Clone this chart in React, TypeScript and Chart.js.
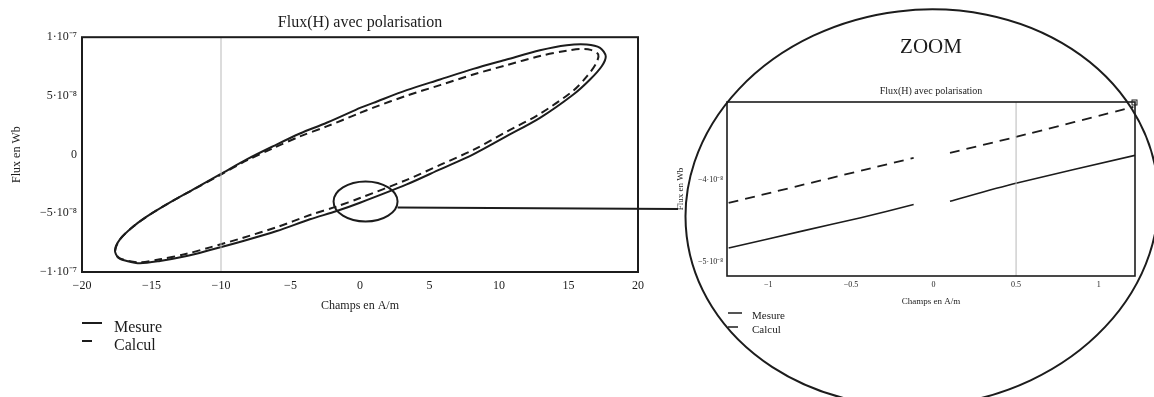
import React, { useEffect, useRef } from "react";
import { Chart, registerables } from "chart.js";

Chart.register(...registerables);

const FONT = "'Liberation Serif', 'Times New Roman', serif";
const INK = "#1c1c1c";

// ---------- main plot ----------
const MAIN_TITLE = "Flux(H) avec polarisation";
const MAIN_X_TITLE = "Champs en A/m";
const MAIN_Y_TITLE = "Flux en Wb";
const MAIN_X_MIN = -20;
const MAIN_X_MAX = 20;
const MAIN_Y_MIN = -1e-7;
const MAIN_Y_MAX = 1e-7;
const MAIN_X_TICKS = [-20, -15, -10, -5, 0, 5, 10, 15, 20];
const MAIN_Y_TICKS = [-1e-7, -5e-8, 0, 5e-8, 1e-7];
const MAIN_Y_TICK_LABELS = ["−1·10⁻⁷", "−5·10⁻⁸", "0", "5·10⁻⁸", "1·10⁻⁷"];
const MAIN_MARKER_H = -10;

const LEGEND_LABELS = ["Mesure", "Calcul"];

// Mesure (solid) loop, H in A/m, flux in Wb
const MESURE_H = [
  0, 0.96, 3.36, 5.76, 8.15, 10.55, 12.95, 14.87, 16.31, 17.27, 17.68, 17.39, 16.55, 15.35,
  12.95, 10.55, 8.15, 5.76, 3.36, 0, -1.68, -3.6, -5.99, -8.4, -10.79, -12.47, -14.39, -15.83,
  -16.78, -17.39, -17.63, -17.27, -16.42, -15.35, -13.91, -11.99, -10.07, -8.15, -6.24, -4.32,
  -2.4, 0,
];
const MESURE_FLUX = [
  3.98e-8, 4.41e-8, 5.49e-8, 6.4e-8, 7.3e-8, 8.1e-8, 8.89e-8, 9.32e-8, 9.38e-8, 9.09e-8, 8.38e-8,
  7.53e-8, 6.4e-8, 5.12e-8, 3.13e-8, 1.57e-8, 0.02e-8, -1.26e-8, -2.54e-8, -4.1e-8, -4.81e-8,
  -5.51e-8, -6.51e-8, -7.36e-8, -8.13e-8, -8.64e-8, -9.06e-8, -9.26e-8, -9.06e-8, -8.78e-8,
  -8.13e-8, -7.22e-8, -6.23e-8, -5.29e-8, -4.24e-8, -2.96e-8, -1.69e-8, -0.41e-8, 0.72e-8, 1.8e-8,
  2.71e-8, 3.98e-8,
];

// Calcul (dashed) loop
const CALCUL_H = [
  0, 0.96, 3.36, 5.76, 8.15, 10.55, 12.95, 14.87, 15.83, 16.6, 17.14, 17.0, 16.35, 15.35, 12.95,
  10.55, 8.15, 5.76, 3.36, 0, -1.68, -3.6, -5.99, -8.4, -10.79, -12.47, -14.39, -15.83, -16.78,
  -17.39, -17.6, -17.27, -16.42, -15.35, -13.91, -11.99, -10.07, -8.15, -6.24, -4.32, -2.4, 0,
];
const CALCUL_FLUX = [
  3.55e-8, 4.0e-8, 5.02e-8, 5.92e-8, 6.82e-8, 7.62e-8, 8.4e-8, 8.85e-8, 9.0e-8, 8.92e-8, 8.53e-8,
  7.8e-8, 6.7e-8, 5.45e-8, 3.48e-8, 1.95e-8, 0.4e-8, -0.88e-8, -2.15e-8, -3.7e-8, -4.42e-8,
  -5.15e-8, -6.18e-8, -7.08e-8, -7.9e-8, -8.45e-8, -8.92e-8, -9.18e-8, -9.02e-8, -8.75e-8,
  -8.13e-8, -7.22e-8, -6.23e-8, -5.29e-8, -4.24e-8, -2.98e-8, -1.74e-8, -0.5e-8, 0.55e-8, 1.55e-8,
  2.4e-8, 3.55e-8,
];

// spot of the main plot that is magnified
const ZOOM_SPOT_H = 0.4;
const ZOOM_SPOT_FLUX = -4.0e-8;

// ---------- zoom plot ----------
const ZOOM_LABEL = "ZOOM";
const ZOOM_TITLE = "Flux(H) avec polarisation";
const ZOOM_X_MIN = -1.25;
const ZOOM_X_MAX = 1.22;
const ZOOM_Y_MIN = -5.17e-8;
const ZOOM_Y_MAX = -3.05e-8;
const ZOOM_X_TICKS = [-1, -0.5, 0, 0.5, 1];
const ZOOM_Y_TICKS = [-5e-8, -4e-8];
const ZOOM_Y_TICK_LABELS = ["−5·10⁻⁸", "−4·10⁻⁸"];
const ZOOM_MARKER_H = 0.5;

const ZOOM_MESURE_H = [-1.24, -0.79, -0.44, -0.12, 0, 0.1, 0.48, 1.22];
const ZOOM_MESURE_FLUX = [-4.83e-8, -4.62e-8, -4.46e-8, -4.3e-8, null, -4.26e-8, -4.05e-8, -3.7e-8];
const ZOOM_CALCUL_H = [-1.24, -0.12, 0, 0.1, 0.49, 1.21];
const ZOOM_CALCUL_FLUX = [-4.28e-8, -3.73e-8, null, -3.67e-8, -3.48e-8, -3.11e-8];

const pts = (xs: number[], ys: (number | null)[]) => xs.map((x, i) => ({ x, y: ys[i] }));
const minus = (v: number) => String(v).replace("-", "−");

const framePlugin = (width: number) => ({
  id: "frame",
  afterDatasetsDraw(chart: any) {
    const { ctx, chartArea: a } = chart;
    ctx.save();
    ctx.strokeStyle = INK;
    ctx.lineWidth = width;
    ctx.strokeRect(a.left, a.top, a.right - a.left, a.bottom - a.top);
    ctx.restore();
  },
});

const legendPlugin = (
  x0: number,
  ys: number[],
  lens: number[],
  textX: number,
  textYs: number[],
  size: number,
  lw: number
) => ({
  id: "customLegend",
  afterDraw(chart: any) {
    const { ctx, chartArea: a } = chart;
    ctx.save();
    ctx.strokeStyle = INK;
    ctx.fillStyle = INK;
    ctx.lineWidth = lw;
    ctx.font = `${size}px ${FONT}`;
    ctx.textBaseline = "middle";
    LEGEND_LABELS.forEach((lab, i) => {
      ctx.beginPath();
      ctx.moveTo(a.left + x0, ys[i]);
      ctx.lineTo(a.left + x0 + lens[i], ys[i]);
      ctx.stroke();
      ctx.fillText(lab, a.left + textX, textYs[i]);
    });
    ctx.restore();
  },
});

const overlayPlugin = {
  id: "zoomOverlay",
  afterDraw(chart: any) {
    const { ctx } = chart;
    const sx = chart.scales.x;
    const sy = chart.scales.y;
    const cx = sx.getPixelForValue(ZOOM_SPOT_H);
    const cy = sy.getPixelForValue(ZOOM_SPOT_FLUX);
    ctx.save();
    ctx.strokeStyle = INK;
    ctx.lineWidth = 2;
    ctx.beginPath();
    ctx.ellipse(cx, cy, 32, 20, 0, 0, Math.PI * 2);
    ctx.stroke();
    ctx.beginPath();
    ctx.moveTo(cx + 32, cy + 6);
    ctx.lineTo(678, 209);
    ctx.stroke();
    ctx.beginPath();
    ctx.ellipse(922, 208, 237, 198, -0.12, 0, Math.PI * 2);
    ctx.stroke();
    ctx.restore();
  },
};

const cornerPlugin = {
  id: "corner",
  afterDraw(chart: any) {
    const { ctx, chartArea: a } = chart;
    ctx.save();
    ctx.strokeStyle = INK;
    ctx.lineWidth = 1;
    ctx.strokeRect(a.right - 3, a.top - 2, 5, 5);
    ctx.restore();
  },
};

function mainConfig(): any {
  return {
    type: "scatter",
    data: {
      datasets: [
        {
          label: "marker",
          data: [
            { x: MAIN_MARKER_H, y: MAIN_Y_MIN },
            { x: MAIN_MARKER_H, y: MAIN_Y_MAX },
          ],
          showLine: true,
          borderColor: "#b9b9b9",
          borderWidth: 1,
          pointRadius: 0,
        },
        {
          label: LEGEND_LABELS[0],
          data: pts(MESURE_H, MESURE_FLUX),
          showLine: true,
          borderColor: INK,
          borderWidth: 2,
          pointRadius: 0,
          tension: 0.3,
        },
        {
          label: LEGEND_LABELS[1],
          data: pts(CALCUL_H, CALCUL_FLUX),
          showLine: true,
          borderColor: INK,
          borderWidth: 2,
          borderDash: [8, 5],
          pointRadius: 0,
          tension: 0.3,
        },
      ],
    },
    options: {
      responsive: false,
      animation: false,
      events: [],
      layout: { padding: { left: 0, right: 516, top: 0, bottom: 76 } },
      plugins: {
        legend: { display: false },
        tooltip: { enabled: false },
        title: {
          display: true,
          text: MAIN_TITLE,
          fullSize: false,
          color: INK,
          font: { family: FONT, size: 16, weight: "normal" },
          padding: { top: 13, bottom: 5 },
        },
      },
      scales: {
        x: {
          type: "linear",
          min: MAIN_X_MIN,
          max: MAIN_X_MAX,
          grid: { display: false, drawTicks: false },
          border: { display: false },
          afterFit: (s: any) => {
            s.height = 49;
          },
          afterBuildTicks: (s: any) => {
            s.ticks = MAIN_X_TICKS.map((v) => ({ value: v }));
          },
          ticks: {
            autoSkip: false,
            maxRotation: 0,
            padding: 7,
            color: INK,
            font: { family: FONT, size: 12 },
            callback: (v: number) => minus(v),
          },
          title: {
            display: true,
            text: MAIN_X_TITLE,
            color: INK,
            font: { family: FONT, size: 12 },
            padding: { top: 0, bottom: 8 },
          },
        },
        y: {
          type: "linear",
          min: MAIN_Y_MIN,
          max: MAIN_Y_MAX,
          grid: { display: false, drawTicks: false },
          border: { display: false },
          afterFit: (s: any) => {
            s.width = 82;
          },
          afterBuildTicks: (s: any) => {
            s.ticks = MAIN_Y_TICKS.map((v) => ({ value: v }));
          },
          ticks: {
            autoSkip: false,
            padding: 5,
            color: INK,
            font: { family: FONT, size: 12 },
            callback: (_v: number, i: number) => MAIN_Y_TICK_LABELS[i],
          },
          title: {
            display: true,
            text: MAIN_Y_TITLE,
            color: INK,
            font: { family: FONT, size: 12 },
            padding: { top: 10, bottom: 0 },
          },
        },
      },
    },
    plugins: [
      framePlugin(2),
      overlayPlugin,
      legendPlugin(0, [323, 341], [20, 10], 32, [328, 346], 16, 2),
    ],
  };
}

function zoomConfig(): any {
  return {
    type: "scatter",
    data: {
      datasets: [
        {
          label: "marker",
          data: [
            { x: ZOOM_MARKER_H, y: ZOOM_Y_MIN },
            { x: ZOOM_MARKER_H, y: ZOOM_Y_MAX },
          ],
          showLine: true,
          borderColor: "#b9b9b9",
          borderWidth: 1,
          pointRadius: 0,
        },
        {
          label: LEGEND_LABELS[0],
          data: pts(ZOOM_MESURE_H, ZOOM_MESURE_FLUX),
          showLine: true,
          spanGaps: false,
          borderColor: INK,
          borderWidth: 1.6,
          pointRadius: 0,
          tension: 0.2,
        },
        {
          label: LEGEND_LABELS[1],
          data: pts(ZOOM_CALCUL_H, ZOOM_CALCUL_FLUX),
          showLine: true,
          spanGaps: false,
          borderColor: INK,
          borderWidth: 1.8,
          borderDash: [10, 7],
          pointRadius: 0,
          tension: 0.2,
        },
      ],
    },
    options: {
      responsive: false,
      animation: false,
      events: [],
      layout: { padding: { left: 0, right: 19, top: 0, bottom: 87 } },
      plugins: {
        legend: { display: false },
        tooltip: { enabled: false },
        title: {
          display: true,
          text: ZOOM_LABEL,
          fullSize: false,
          color: INK,
          font: { family: FONT, size: 21, weight: "normal" },
          padding: { top: 35, bottom: 0 },
        },
        subtitle: {
          display: true,
          text: ZOOM_TITLE,
          fullSize: false,
          color: INK,
          font: { family: FONT, size: 10, weight: "normal" },
          padding: { top: 24.8, bottom: 5 },
        },
      },
      scales: {
        x: {
          type: "linear",
          min: ZOOM_X_MIN,
          max: ZOOM_X_MAX,
          grid: { display: false, drawTicks: false },
          border: { display: false },
          afterFit: (s: any) => {
            s.height = 34;
          },
          afterBuildTicks: (s: any) => {
            s.ticks = ZOOM_X_TICKS.map((v) => ({ value: v }));
          },
          ticks: {
            autoSkip: false,
            maxRotation: 0,
            padding: 4,
            color: INK,
            font: { family: FONT, size: 8 },
            callback: (v: number) => minus(v),
          },
          title: {
            display: true,
            text: MAIN_X_TITLE,
            color: INK,
            font: { family: FONT, size: 9 },
            padding: { top: 0, bottom: 3 },
          },
        },
        y: {
          type: "linear",
          min: ZOOM_Y_MIN,
          max: ZOOM_Y_MAX,
          grid: { display: false, drawTicks: false },
          border: { display: false },
          afterFit: (s: any) => {
            s.width = 67;
          },
          afterBuildTicks: (s: any) => {
            s.ticks = ZOOM_Y_TICKS.map((v) => ({ value: v }));
          },
          ticks: {
            autoSkip: false,
            padding: 4,
            color: INK,
            font: { family: FONT, size: 8 },
            callback: (_v: number, i: number) => ZOOM_Y_TICK_LABELS[i],
          },
          title: {
            display: true,
            text: MAIN_Y_TITLE,
            color: INK,
            font: { family: FONT, size: 9 },
            padding: { top: 15, bottom: 0 },
          },
        },
      },
    },
    plugins: [
      framePlugin(1.6),
      cornerPlugin,
      legendPlugin(1, [313, 327], [14, 10], 25, [316, 330], 11, 1.5),
    ],
  };
}

export default function App() {
  const mainRef = useRef<HTMLCanvasElement>(null);
  const zoomRef = useRef<HTMLCanvasElement>(null);

  useEffect(() => {
    document.body.style.margin = "0";
    const a = new Chart(mainRef.current as HTMLCanvasElement, mainConfig());
    const b = new Chart(zoomRef.current as HTMLCanvasElement, zoomConfig());
    return () => {
      a.destroy();
      b.destroy();
    };
  }, []);

  return (
    <div
      style={{
        position: "fixed",
        left: 0,
        top: 0,
        width: 1154,
        height: 397,
        background: "#fff",
        overflow: "hidden",
      }}
    >
      <canvas
        ref={mainRef}
        width={1154}
        height={397}
        style={{ position: "absolute", left: 0, top: 0, width: 1154, height: 397 }}
      />
      <canvas
        ref={zoomRef}
        width={494}
        height={397}
        style={{ position: "absolute", left: 660, top: 0, width: 494, height: 397 }}
      />
    </div>
  );
}
